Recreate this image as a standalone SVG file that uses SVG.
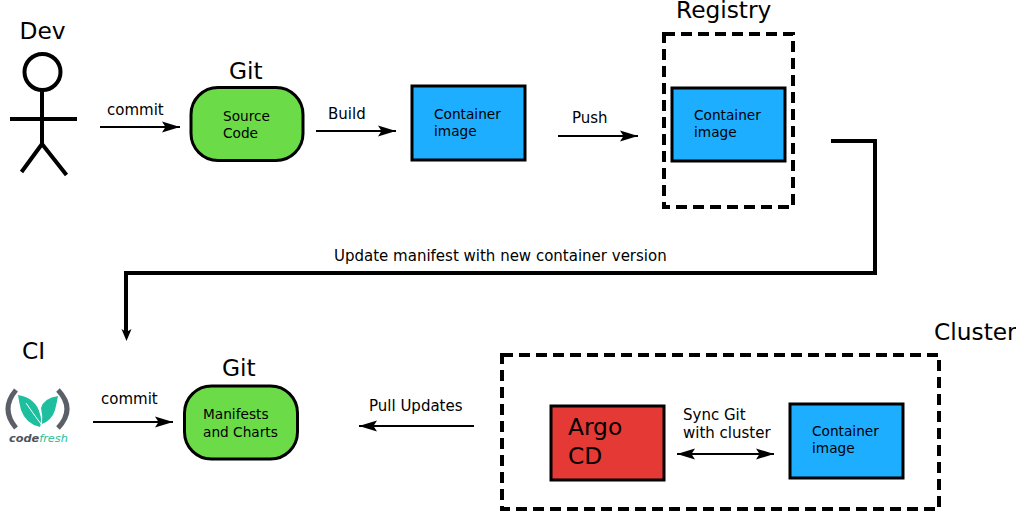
<svg xmlns="http://www.w3.org/2000/svg" width="1016" height="511" viewBox="0 0 1016 511">
<style>
text{font-family:"DejaVu Sans",sans-serif;fill:#000}
.t{font-size:23.300px}
.l{font-size:15px}
.n{font-size:13.700px}
.b{stroke:#000;stroke-width:3}
.c{fill:none;stroke:#000;stroke-width:2}
.d{fill:none;stroke:#000;stroke-width:4;stroke-dasharray:11 6}
.s{fill:none;stroke:#000;stroke-width:4}
.g{fill:#6bdb47}.u{fill:#1eaeff}.r{fill:#e53935}
</style>
<defs>
<marker id="a" markerUnits="userSpaceOnUse" markerWidth="20" markerHeight="14" refX="18" refY="7" orient="auto-start-reverse"><path d="M0 1.500 L18 7 L0 12.500 L3.500 7Z" fill="#000"/></marker>
</defs>
<g id="connectors">
<path class="c" d="M100 127H180" marker-end="url(#a)"/>
<path class="c" d="M316 131H396" marker-end="url(#a)"/>
<path class="c" d="M558 136H638" marker-end="url(#a)"/>
<path class="c" d="M93 422H173" marker-end="url(#a)"/>
<path class="c" d="M474 426H359" marker-end="url(#a)"/>
<path class="c" d="M677 454H774" marker-start="url(#a)" marker-end="url(#a)"/>
<path class="s" d="M831 141H875V273H126V332"/>
<path d="M121.500 329 L126.500 332 L131.500 329 L126.500 341Z" fill="#000"/>
</g>
<g id="dev">
<text class="t" x="19.500" y="38.500">Dev</text>
<g fill="none" stroke="#000" stroke-width="4">
<circle cx="42.500" cy="72" r="18"/>
<path d="M42 90V144M10 119H77M42 144L21.500 172M42 144L66.500 175"/>
</g>
</g>
<g id="git-source">
<text class="t" x="229" y="78.500">Git</text>
<rect class="g b" x="191" y="87.500" width="112" height="73" rx="27"/>
<text class="n" x="223" y="120.500">Source</text>
<text class="n" x="223" y="137.500">Code</text>
</g>
<g id="container-build">
<rect class="u b" x="412" y="86" width="113" height="74"/>
<text class="n" x="434" y="119">Container</text>
<text class="n" x="434" y="136">image</text>
</g>
<g id="registry">
<text class="t" x="676" y="17.500">Registry</text>
<rect class="d" x="664" y="34" width="129" height="173"/>
<rect class="u b" x="672" y="88" width="113" height="73"/>
<text class="n" x="694" y="120">Container</text>
<text class="n" x="694" y="137">image</text>
</g>
<g id="ci">
<text class="t" x="22" y="359">CI</text>
<path d="M16 390Q0 409 16 428" fill="none" stroke="#5b6068" stroke-width="5"/>
<path d="M58 390Q76 409 58 428" fill="none" stroke="#5b6068" stroke-width="5"/>
<path d="M18 395Q36 398 40 414Q42 420 40 427Q26 424 21 410Q19 402 18 395Z" fill="#1dbf9e"/>
<path d="M58 396Q44 398 41 408Q43 416 42 424Q52 420 55 410Q57 402 58 396Z" fill="#1dbf9e"/>
<path d="M26 403Q32 412 41 424" fill="none" stroke="#fff" stroke-width="1"/>
<text x="9" y="442" style="font-size:11.300px;font-weight:700;font-style:italic;fill:#4f545c">code<tspan style="font-weight:400;fill:#1dbf9e">fresh</tspan></text>
</g>
<g id="git-manifests">
<text class="t" x="222" y="375.500">Git</text>
<rect class="g b" x="184.500" y="386" width="113" height="73" rx="27"/>
<text class="n" x="203" y="419">Manifests</text>
<text class="n" x="203" y="437">and Charts</text>
</g>
<g id="cluster">
<text class="t" x="934" y="339.500">Cluster</text>
<rect class="d" x="502" y="355" width="437" height="154"/>
</g>
<g id="argo-cd">
<rect class="r b" x="551" y="406" width="113" height="74"/>
<text x="568" y="435" style="font-size:23.300px">Argo</text>
<text x="568" y="464" style="font-size:23.300px">CD</text>
</g>
<g id="container-cluster">
<rect class="u b" x="790" y="404" width="113" height="74"/>
<text class="n" x="812" y="436">Container</text>
<text class="n" x="812" y="453">image</text>
</g>
<g id="labels">
<text class="l" x="107" y="114.500">commit</text>
<text class="l" x="328" y="118.500">Build</text>
<text class="l" x="572" y="122.500">Push</text>
<text class="l" x="334" y="260.500">Update manifest with new container version</text>
<text class="l" x="101" y="403.500">commit</text>
<text class="l" x="369" y="410.500">Pull Updates</text>
<text class="l" x="683" y="419.500">Sync Git</text>
<text class="l" x="683" y="438">with cluster</text>
</g>
</svg>
